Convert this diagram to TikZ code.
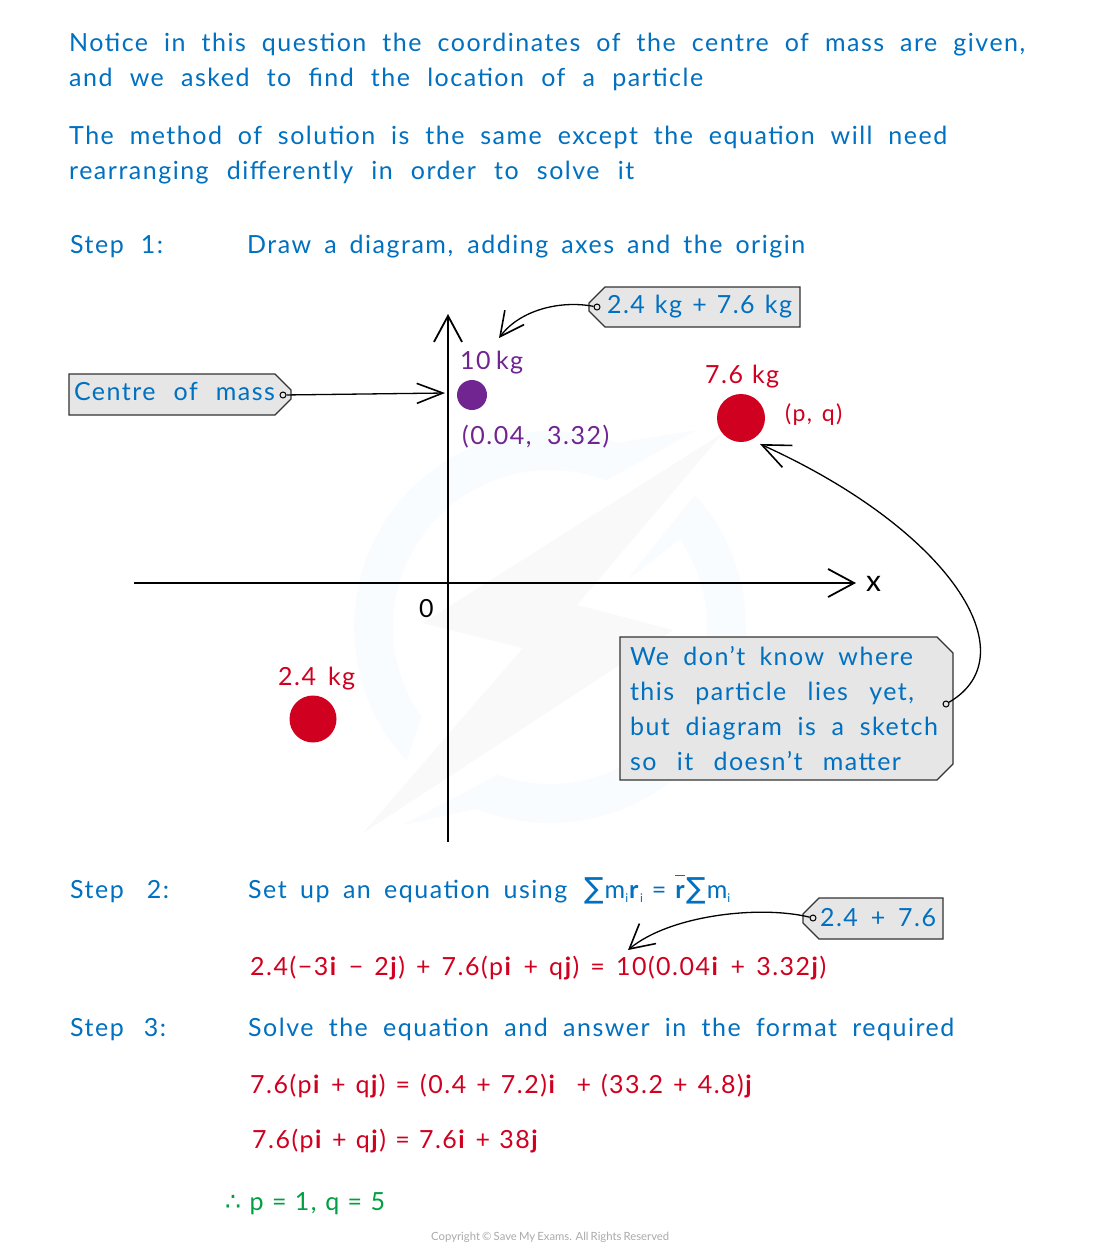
\documentclass[tikz,border=0pt]{standalone}
\usepackage{fontspec}
\usetikzlibrary{arrows.meta,shapes.misc}
\setmainfont{Lato}
\newfontfamily\hand[LetterSpace=6]{Lato}
\newfontfamily\sym{DejaVu Sans}
\definecolor{cblue}{RGB}{0,112,192}
\definecolor{cred}{RGB}{208,0,32}
\definecolor{cpurple}{RGB}{112,37,144}
\definecolor{cgreen}{RGB}{0,160,64}
\definecolor{cgrey}{RGB}{170,170,170}
\definecolor{tagfill}{RGB}{230,230,230}
\definecolor{wmring}{RGB}{249,252,254}
\definecolor{wmbolt}{RGB}{249,249,249}
\tikzset{
  txt/.style={anchor=base west,inner sep=0pt,font=\fontsize{25}{25}\selectfont\hand},
  tagbox/.style={chamfered rectangle,chamfered rectangle xsep=9pt,chamfered rectangle ysep=7pt,
    draw=black!80,line width=1.3pt,fill=tagfill,inner sep=0pt,text=cblue,
    font=\fontsize{25}{25}\selectfont\hand},
  hole/.style={circle,draw=black,fill=none,line width=1pt,inner sep=0pt,minimum size=6pt},
  axis/.style={draw=black,line width=2pt},
  point/.style={circle,inner sep=0pt},
  barb/.style={-{Straight Barb[length=#1,width=28pt,line width=1.8pt]}},
  lead/.style={draw=black,line width=1.3pt}
}
\newcommand{\tx}[6]{\node[txt,text=#5] (#1) at (#2,#3) {\makebox[#4pt][s]{#6}};}
\newcommand{\st}[2]{\rule[-#2pt]{0pt}{#1pt}}
\newcommand{\sbi}{\raisebox{-4pt}{\fontsize{12}{12}\selectfont i}}
\newcommand{\sg}{{\sym\fontsize{29}{29}\selectfont ∑}}
\begin{document}
\begin{tikzpicture}[x=1pt,y=-1pt]
\useasboundingbox (0,0) rectangle (1100,1256);
\fill[white] (0,0) rectangle (1100,1256);
% watermark
\fill[wmring] (697,430) -- plot[domain=70:223,samples=60] ({550+196*cos(\x)},{627-196*sin(\x)})
   -- (422,715) -- plot[domain=214:69,samples=60] ({550+157*cos(\x)},{627-157*sin(\x)}) -- cycle;
\fill[wmring] (693,497) -- plot[domain=42:-112,samples=60] ({550+196*cos(\x)},{627-196*sin(\x)})
   -- (403,825) -- (497,775) -- plot[domain=-110:34,samples=60] ({550+157*cos(\x)},{627-157*sin(\x)})
   -- (627,580) -- cycle;
\fill[wmbolt] (723,433) -- (423,623) -- (523,648) -- (363,833) -- (673,630) -- (577,605) -- cycle;
% intro text
\tx{l1}{69}{51}{956}{cblue}{Notice in this question the coordinates of the centre of mass are given,}
\tx{l2}{69}{86}{634}{cblue}{and we asked to find the location of a particle}
\tx{l3}{69}{144}{878}{cblue}{The method of solution is the same except the equation will need}
\tx{l4}{69}{179}{565}{cblue}{rearranging differently in order to solve it}
\tx{s1}{70}{253}{93}{cblue}{Step 1:}
\tx{s1t}{247}{253}{558}{cblue}{Draw a diagram, adding axes and the origin}
% axes
\coordinate (yb) at (448,842); \coordinate (yt) at (448,314);
\coordinate (xl) at (134,583); \coordinate (xr) at (856,583);
\draw[axis,barb=26pt] (yb) -- (yt);
\draw[axis,barb=26pt,line width=1.8pt] (xl) -- (xr);
\node[txt,text=black,font=\fontsize{30}{30}\selectfont\hand] (xlab) at (866,591) {x};
\tx{zero}{419}{617}{16}{black}{0}
% particles
\node[point,fill=cpurple,minimum size=30pt] (pm) at (472,395) {};
\node[point,fill=cred,minimum size=48pt] (p76) at (741,418) {};
\node[point,fill=cred,minimum size=47pt] (p24) at (313,719) {};
\tx{m10}{460}{369}{63}{cpurple}{10 kg}
\tx{cc}{462}{444}{147}{cpurple}{(0.04, 3.32)}
\tx{m76}{705}{383}{74}{cred}{7.6 kg}
\node[txt,text=cred,font=\fontsize{23}{23}\selectfont\hand] (pq) at (785,421) {\makebox[57pt][s]{(p, q)}};
\tx{m24}{278}{685}{77}{cred}{2.4 kg}
% tags
\node[tagbox,chamfered rectangle corners={north east,south east},minimum height=41pt] (t1) at (180,394.5)
  {\makebox[204pt][l]{\hspace*{-4pt}\makebox[201pt][s]{\st{21}{6}Centre of mass}}};
\node[hole] (h1) at (283,395) {};
\node[tagbox,chamfered rectangle corners={north west,south west},minimum height=40pt] (t2) at (694.5,307)
  {\makebox[193pt][l]{\hspace*{9pt}\makebox[185pt][s]{\st{22}{4}2.4 kg + 7.6 kg}}};
\node[hole] (h2) at (597,307) {};
\node[tagbox,chamfered rectangle corners={north east,south east}] (t3) at (786.5,708.5)
  {\makebox[315pt][l]{\hspace*{1pt}\vbox{\baselineskip=35pt\lineskiplimit=-30pt
    \hbox{\makebox[283pt][s]{\st{21}{0}We don’t know where}}
    \hbox{\makebox[284pt][s]{this particle lies yet,}}
    \hbox{\makebox[308pt][s]{but diagram is a sketch}}
    \hbox{\makebox[271pt][s]{\st{0}{3}so it doesn’t matter}}}}};
\node[hole] (h3) at (946,704) {};
% connectors
\coordinate (a1) at (445,393);
\coordinate (a2) at (499,338);
\coordinate (a3) at (760,444);
\draw[lead,-{Straight Barb[length=26pt,width=20pt,line width=1.6pt]}] (h1) -- (a1);
\draw[lead,-{Straight Barb[length=24pt,width=24pt,line width=1.6pt]}] (h2) .. controls (560,300) and (520,310) .. (a2);
\draw[lead,-{Straight Barb[length=28pt,width=24pt,line width=1.6pt]}] (h3) .. controls (1030,655) and (950,530) .. (a3);
% step 2
\tx{s2}{70}{898}{99}{cblue}{Step 2:}
\tx{s2t}{248}{898}{319}{cblue}{Set up an equation using}
\node[txt,text=cblue] (s2f) at (584,898) {\sg\hspace*{1pt}m\sbi\hspace*{1pt}\textbf{r}\sbi\hspace*{9pt}=\hspace*{9pt}\rlap{\rule[22pt]{10pt}{1.5pt}}\textbf{r}\sg\hspace*{1pt}m\sbi};
\tx{eq1}{250}{975}{576}{cred}{2.4(−3\textbf{i} − 2\textbf{j}) + 7.6(p\textbf{i} + q\textbf{j}) = 10(0.04\textbf{i} + 3.32\textbf{j})}
\node[tagbox,chamfered rectangle corners={north west,south west},minimum height=41pt] (t4) at (873,918.5)
  {\makebox[122pt][l]{\hspace*{8pt}\makebox[116pt][s]{\st{23}{4}2.4 + 7.6}}};
\node[hole] (h4) at (813,918) {};
\coordinate (a4) at (628,950);
\draw[lead,-{Straight Barb[length=24pt,width=26pt,line width=1.6pt]}] (h4) .. controls (760,905) and (670,915) .. (a4);
% step 3
\tx{s3}{70}{1036}{96}{cblue}{Step 3:}
\tx{s3t}{248}{1036}{706}{cblue}{Solve the equation and answer in the format required}
\tx{eq2}{250}{1093}{503}{cred}{7.6(p\textbf{i} + q\textbf{j}) = (0.4 + 7.2)\textbf{i} \ + (33.2 + 4.8)\textbf{j}}
\tx{eq3}{252}{1148}{287}{cred}{7.6(p\textbf{i} + q\textbf{j}) = 7.6\textbf{i} + 38\textbf{j}}
\tx{ans}{225}{1210}{160}{cgreen}{{\sym\fontsize{25}{25}\selectfont ∴} p = 1, q = 5}
\node[anchor=base west,inner sep=0pt,text=cgrey,font=\fontsize{11.3}{11.3}\selectfont] (copy) at (431,1240) {\makebox[238pt][s]{Copyright © Save My Exams. All Rights Reserved}};
\end{tikzpicture}
\end{document}
